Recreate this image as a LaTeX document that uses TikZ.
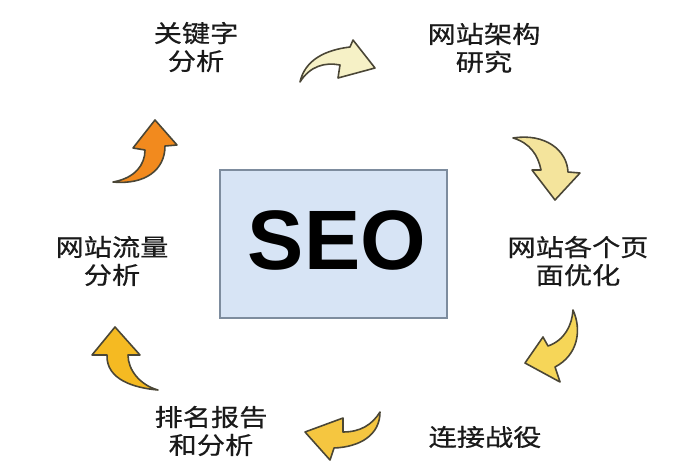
\documentclass[tikz,border=0pt]{standalone}
\usepackage{fontspec}
\setmainfont{Liberation Sans}
\newfontfamily\cjk[FakeStretch=1.18,FakeBold=0.6]{Noto Sans CJK SC}
\definecolor{boxfill}{HTML}{D7E4F5}
\definecolor{boxline}{HTML}{7D8C9E}
\definecolor{arrline}{HTML}{4A4636}
\definecolor{aA}{HTML}{F6F1C6}
\definecolor{aB}{HTML}{F4E49C}
\definecolor{aC}{HTML}{F6D658}
\definecolor{aD}{HTML}{F5C640}
\definecolor{aE}{HTML}{F5BA22}
\definecolor{aF}{HTML}{F28A1E}
\definecolor{txt}{HTML}{1A1A1A}
\tikzset{
  lbl/.style={font=\cjk\fontsize{13.6}{15.9}\selectfont, text=txt, align=center, inner sep=0pt},
  blockarrow/.style={draw=arrline, line width=0.9pt, line join=round}
}
\begin{document}
\begin{tikzpicture}[x=0.02cm,y=-0.02cm]
\useasboundingbox (0,0) rectangle (700,470);
\fill[white] (0,0) rectangle (700,470);

% central box
\node[draw=boxline, line width=1.1pt, fill=boxfill, minimum width=4.54cm, minimum height=2.96cm,
      inner sep=0pt] (seo) at (333.5,244) {};
\node[font=\bfseries\fontsize{48}{55}\selectfont, inner sep=0pt] (seotxt) at (337,240) {SEO};

% labels
\node[lbl] (kw) at (196,47) {关键字\\分析};
\node[lbl] (arch) at (484,48) {网站架构\\研究};
\node[lbl] (page) at (578,261) {网站各个页\\面优化};
\node[lbl] (link) at (485,437) {连接战役};
\node[lbl] (rank) at (211,431) {排名报告\\和分析};
\node[lbl] (flow) at (112,261) {网站流量\\分析};

% curved block arrows
\filldraw[blockarrow, fill=aA] (300,82) .. controls (305,60) and (325,50) .. (350,47)
  -- (353,40) -- (375,68) -- (338,78) -- (340,65) .. controls (325,62) and (310,66) .. cycle;
\filldraw[blockarrow, fill=aB] (513,138) .. controls (545,133) and (567,150) .. (568,172)
  -- (580,173) -- (555,200) -- (532,170) -- (541,170) .. controls (538,155) and (530,143) .. cycle;
\filldraw[blockarrow, fill=aC] (573,310) .. controls (582,330) and (578,355) .. (555,367)
  -- (560,382) -- (525,363) -- (543,337) -- (548,346) .. controls (565,340) and (572,325) .. cycle;
\filldraw[blockarrow, fill=aD] (380,412) .. controls (372,425) and (360,432) .. (343,432)
  -- (343,418) -- (305,432) -- (330,460) -- (334,448) .. controls (360,447) and (380,435) .. cycle;
\filldraw[blockarrow, fill=aE] (158,390) .. controls (135,388) and (106,380) .. (107,355)
  -- (92,355) -- (115,327) -- (140,355) -- (128,355) .. controls (128,370) and (140,385) .. cycle;
\filldraw[blockarrow, fill=aF] (113,182) .. controls (135,178) and (145,165) .. (145,150)
  -- (133,148) -- (155,120) -- (177,145) -- (165,146) .. controls (165,170) and (145,185) .. cycle;
\end{tikzpicture}
\end{document}
